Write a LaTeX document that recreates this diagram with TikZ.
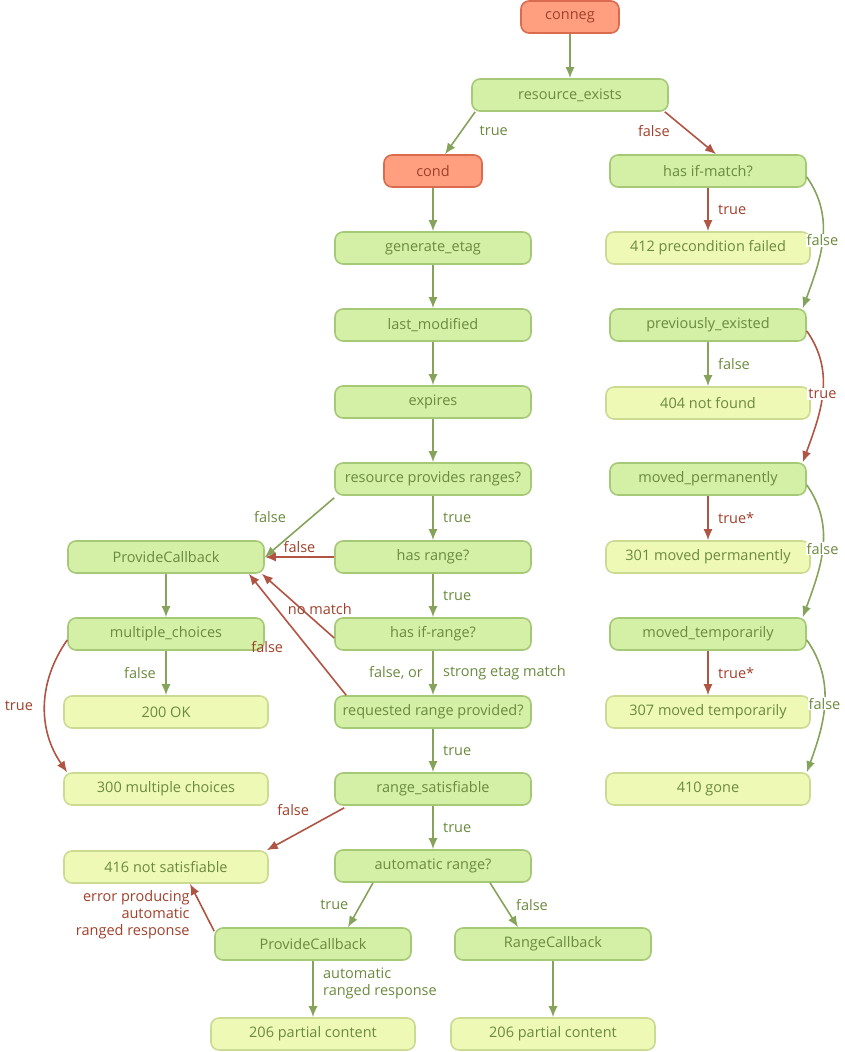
\documentclass[tikz,border=0pt]{standalone}
\usepackage{fontspec}
\setmainfont{Open Sans}
\usetikzlibrary{arrows.meta,positioning}
\definecolor{stepfill}{HTML}{D3F0A6}
\definecolor{stepdraw}{HTML}{A6C978}
\definecolor{steptext}{HTML}{6B8A3E}
\definecolor{endfill}{HTML}{EEF9B6}
\definecolor{enddraw}{HTML}{CCDB94}
\definecolor{hotfill}{HTML}{FF9F80}
\definecolor{hotdraw}{HTML}{DB6B4F}
\definecolor{hottext}{HTML}{A0402A}
\definecolor{yes}{HTML}{86A35C}
\definecolor{no}{HTML}{B05443}
\tikzset{
  base/.style={rounded corners=8pt,line width=1.6pt,minimum height=32pt,text=steptext,font=\fontsize{14.5}{17}\selectfont,inner sep=2pt},
  decide/.style={base,draw=stepdraw,fill=stepfill,minimum width=196pt},
  leaf/.style={base,draw=enddraw,fill=endfill,minimum width=204pt},
  hot/.style={base,draw=hotdraw,fill=hotfill,text=hottext,minimum width=98pt},
  ok/.style={draw=yes,line width=1.6pt,-{Latex[length=11pt,width=9pt]}},
  ko/.style={draw=no,line width=1.6pt,-{Latex[length=11pt,width=9pt]}},
  lok/.style={text=steptext,font=\fontsize{14.5}{17}\selectfont},
  lko/.style={text=hottext,font=\fontsize{14.5}{17}\selectfont},
  onc/.style={fill=white,inner sep=1pt}
}
\begin{document}
\begin{tikzpicture}[x=1pt,y=-1pt]
\useasboundingbox (0,0) rectangle (845,1052);

% right column
\node[hot]  (conneg)  at (570,17)  {conneg};
\node[decide] (exists)  at (570,95)  {resource\_exists};
\node[decide] (ifmatch) at (708,171) {has if-match?};
\node[leaf] (r412)    at (708,248) {412 precondition failed};
\node[decide] (existed) at (708,325) {previously\_existed};
\node[leaf] (r404)    at (708,403) {404 not found};
\node[decide] (movedp)  at (708,479) {moved\_permanently};
\node[leaf] (r301)    at (708,557) {301 moved permanently};
\node[decide] (movedt)  at (708,634) {moved\_temporarily};
\node[leaf] (r307)    at (708,712) {307 moved temporarily};
\node[leaf] (r410)    at (708,789) {410 gone};

% middle column
\node[hot]  (cond)    at (433,171) {cond};
\node[decide] (etag)    at (433,248) {generate\_etag};
\node[decide] (lastmod) at (433,325) {last\_modified};
\node[decide] (expires) at (433,402) {expires};
\node[decide] (provides) at (433,479) {resource provides ranges?};
\node[decide] (hasrange) at (433,557) {has range?};
\node[decide] (ifrange)  at (433,634) {has if-range?};
\node[decide] (reqrange) at (433,712) {requested range provided?};
\node[decide] (satisf)   at (433,789) {range\_satisfiable};
\node[decide] (autorange) at (433,866) {automatic range?};
\node[decide] (provcb2)  at (313,944) {ProvideCallback};
\node[decide] (rangecb)  at (553,944) {RangeCallback};
\node[leaf] (r206a)    at (313,1034) {206 partial content};
\node[leaf] (r206b)    at (553,1034) {206 partial content};

% left column
\node[decide] (provcb)  at (166,557) {ProvideCallback};
\node[decide] (multi)   at (166,634) {multiple\_choices};
\node[leaf] (r200)    at (166,712) {200 OK};
\node[leaf] (r300)    at (166,789) {300 multiple choices};
\node[leaf] (r416)    at (166,867) {416 not satisfiable};

\draw[ok] (conneg) -- (exists);
\draw[ok] ([xshift=4pt]exists.south west) -- (cond) node[lok,pos=0.45,anchor=west,xshift=14pt] {true};
\draw[ko] ([xshift=-4pt]exists.south east) -- ([xshift=8pt]ifmatch.north) node[lko,pos=0.45,anchor=east,xshift=-14pt] {false};
\draw[ko] (ifmatch) -- (r412) node[lko,midway,right=6pt] {true};
\draw[ok] ([yshift=-6pt]ifmatch.east) to[out=-55,in=70] node[lok,onc,pos=0.5] {false} ([xshift=-4pt]existed.north east);
\draw[ok] (existed) -- (r404) node[lok,midway,right=6pt] {false};
\draw[ko] ([yshift=-6pt]existed.east) to[out=-55,in=70] node[lko,onc,pos=0.5] {true} ([xshift=-4pt]movedp.north east);
\draw[ko] (movedp) -- (r301) node[lko,midway,right=6pt] {true*};
\draw[ok] ([yshift=-6pt]movedp.east) to[out=-55,in=70] node[lok,onc,pos=0.5] {false} ([xshift=-4pt]movedt.north east);
\draw[ko] (movedt) -- (r307) node[lko,midway,right=6pt] {true*};
\draw[ok] ([yshift=-6pt]movedt.east) to[out=-55,in=70] node[lok,onc,pos=0.5] {false} ([xshift=-4pt]r410.north east);

\draw[ok] (cond) -- (etag);
\draw[ok] (etag) -- (lastmod);
\draw[ok] (lastmod) -- (expires);
\draw[ok] (expires) -- (provides);
\draw[ok] (provides) -- (hasrange) node[lok,midway,right=6pt] {true};
\draw[ok] ([yshift=-2pt]provides.south west) -- ([yshift=-17pt]provcb.north east) node[lok,pos=0.55,anchor=south east,xshift=-6pt,yshift=4pt] {false};
\draw[ko] (hasrange) -- (provcb) node[lko,pos=0.5,above=0pt] {false};
\draw[ok] (hasrange) -- (ifrange) node[lok,midway,right=6pt] {true};
\draw[ko] ([yshift=-4pt]ifrange.west) -- ([xshift=-3pt]provcb.south east) node[lko,pos=0.2,anchor=south west,yshift=6pt,xshift=-36pt] {no match};
\draw[ok] (ifrange) -- (reqrange) node[lok,pos=0.5,left=6pt] {false, or} node[lok,pos=0.5,right=6pt] {strong etag match};
\draw[ko] ([xshift=12pt]reqrange.north west) -- ([xshift=-16pt]provcb.south east) node[lko,pos=0.4,left=20pt] {false};
\draw[ok] (reqrange) -- (satisf) node[lok,midway,right=6pt] {true};
\draw[ko] ([xshift=10pt,yshift=-2pt]satisf.south west) -- ([xshift=-2pt]r416.north east) node[lko,pos=0.35,anchor=south east,xshift=-4pt,yshift=3pt] {false};
\draw[ok] (satisf) -- (autorange) node[lok,midway,right=6pt] {true};
\draw[ok] ([xshift=-60pt]autorange.south) -- ([xshift=35pt]provcb2.north) node[lok,pos=0.5,left=8pt] {true};
\draw[ok] ([xshift=57pt]autorange.south) -- ([xshift=-35pt]rangecb.north) node[lok,pos=0.5,right=8pt] {false};
\draw[ko] ([yshift=-4pt]provcb2.north west) -- ([xshift=24pt]r416.south) node[lko,pos=0.35,anchor=east,xshift=-12pt,align=right] {error producing\\automatic\\ranged response};
\draw[ok] (provcb2) -- (r206a) node[lok,pos=0.4,right=6pt,align=left] {automatic\\ranged response};
\draw[ok] (rangecb) -- (r206b);

\draw[ok] (provcb) -- (multi);
\draw[ok] (multi) -- (r200) node[lok,midway,left=6pt] {false};
\draw[ko] ([yshift=-6pt]multi.west) to[out=-125,in=125] node[lko,pos=0.5,left=8pt] {true} ([xshift=4pt]r300.north west);
\end{tikzpicture}
\end{document}
